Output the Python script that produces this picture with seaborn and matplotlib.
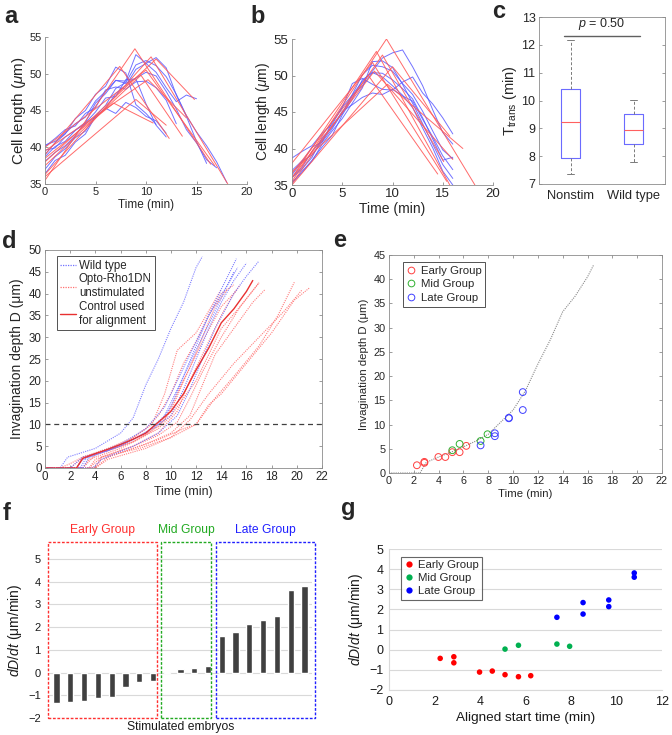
import numpy as np
import pandas as pd
import matplotlib.pyplot as plt
import seaborn as sns
from matplotlib.lines import Line2D
from matplotlib.patches import Rectangle

sns.set_style('ticks')
plt.rcParams['font.family'] = ['Liberation Sans', 'DejaVu Sans']
plt.rcParams['mathtext.fontset'] = 'custom'
plt.rcParams['mathtext.rm'] = 'Liberation Sans'
plt.rcParams['mathtext.it'] = 'Liberation Sans:italic'
plt.rcParams['mathtext.bf'] = 'Liberation Sans:bold'

# ---------------- data ----------------
# a / b : cell length traces (1 min sampling) and piecewise-linear fits
dt_len = 1.0
a_blue = [
    [39.0, 40.6, 41.8, 43.9, 45.0, 47.2, 48.3, 50.9, 50.1, 45.8, 44.6, 43.1],
    [40.3, 40.8, 41.9, 43.2, 44.1, 46.3, 47.6, 49.1, 49.0, 52.6, 51.4, 50.2, 48.1, 46.2, 47.1, 46.6],
    [37.0, 38.7, 39.8, 41.3, 42.2, 44.3, 45.7, 48.0, 48.8, 51.2, 51.8, 51.1, 49.6, 47.2, 44.3, 42.1, 40.2, 38.0, 35.2],
    [38.1, 39.3, 40.2, 41.6, 43.3, 44.8, 46.7, 46.9, 49.2, 49.3, 45.9, 43.0, 41.4],
    [36.4, 38.2, 38.9, 40.7, 41.8, 44.2, 45.3, 47.3, 48.4, 50.6, 51.4, 52.2, 50.8, 47.1, 44.2, 40.8, 37.8],
    [39.6, 39.9, 41.4, 42.3, 43.2, 44.1, 45.3, 44.6, 46.1, 45.4, 44.2, 43.6, 41.9],
    [38.7, 40.1, 40.8, 42.3, 43.4, 46.0, 47.3, 49.1, 48.7, 49.4, 50.2, 49.7, 47.6, 45.2, 42.4, 40.6, 38.3, 37.2],
    [40.1, 41.2, 42.4, 42.9, 44.6, 45.4, 47.8, 48.2, 47.9, 48.9, 49.0, 48.1, 46.4, 43.2],
]
a_fit_t = [[0, 8.9, 16.4], [0, 10.5, 18.1], [0, 11.0, 14.8], [0, 7.4, 12.3], [0, 9.5, 13.6],
           [0, 10.0, 16.8], [0, 6.8, 10.7], [0, 10.2, 14.0], [0, 9.0, 12.0]]
a_fit_y = [[35.5, 53.4, 37.7], [36.3, 52.3, 35.0], [38.0, 52.0, 46.5], [39.0, 51.0, 41.2], [37.5, 49.8, 41.5],
           [40.0, 50.5, 37.5], [38.5, 46.0, 43.3], [39.5, 49.2, 44.0], [36.0, 46.5, 43.0]]

b_blue = [
    [38.7, 39.6, 40.4, 42.1, 43.3, 45.7, 47.3, 49.2, 50.6, 52.4, 53.1, 53.5, 51.2, 48.6, 45.3, 42.2, 40.6],
    [36.1, 37.4, 39.6, 41.2, 43.1, 44.8, 47.2, 48.6, 50.4, 50.3, 49.4, 48.2, 46.8, 44.2, 41.3, 38.4, 38.8],
    [35.4, 36.7, 38.4, 40.2, 41.8, 44.6, 46.8, 49.4, 50.4, 49.8, 48.6, 47.3, 45.6, 42.8, 40.1, 36.9, 35.0],
    [36.4, 38.2, 40.2, 40.9, 43.6, 45.6, 48.9, 49.6, 48.8, 48.1, 48.0, 49.1, 49.8, 47.6, 46.1, 44.2, 42.0],
    [35.2, 36.9, 38.3, 40.6, 42.4, 44.1, 46.2, 48.3, 51.9, 52.0, 51.1, 48.8, 46.2, 43.4, 40.6, 37.8, 35.9],
    [37.0, 38.3, 39.1, 40.9, 42.7, 44.9, 47.4, 50.1, 51.4, 51.2, 50.6, 48.9, 47.4, 45.1, 42.4, 39.8, 38.6],
    [36.0, 37.2, 38.8, 41.5, 42.9, 45.1, 46.0, 47.0, 47.6, 47.4, 48.1, 47.2, 46.5, 44.0, 41.6, 39.0, 37.1],
]
b_fit_t = [[0, 9.4, 18.2], [0, 8.4, 15.7], [0, 8.0, 15.4], [0, 9.0, 15.1],
           [0, 7.6, 14.5], [0, 10.0, 15.7], [0, 9.5, 17.0], [0, 8.2, 16.0]]
b_fit_y = [[35.5, 55.0, 35.0], [36.0, 53.3, 35.0], [38.0, 51.8, 35.5], [35.2, 52.8, 38.2],
           [36.6, 50.0, 36.5], [35.0, 51.2, 41.7], [36.8, 48.8, 40.0], [36.0, 50.6, 38.5]]

# c : transition time box summaries
c_groups = ['Nonstim', 'Wild type']
c_whislo = [7.35, 7.80]
c_q1 = [7.92, 8.42]
c_med = [9.21, 8.93]
c_q3 = [10.40, 9.50]
c_whishi = [12.18, 10.03]
c_pval = 0.50

# d : invagination depth curves
d_wt_t = [
    [0, 1.2, 1.8, 4, 6, 7, 8, 9, 10, 11, 12, 12.5],
    [0, 2.5, 3, 5, 7, 9, 10, 11, 12, 13, 14, 15.2],
    [0, 3, 3.5, 6, 8, 10, 11, 12, 13, 14, 15, 16],
    [0, 3.8, 4.5, 7, 9, 10.5, 11.5, 12.5, 13.5, 15, 16, 17],
    [0, 2.8, 3.3, 6, 8, 9.5, 10.5, 12, 13, 14.5, 15.3],
    [0, 2, 3, 5, 8, 9.5, 11, 12.5, 14, 15],
]
d_wt_D = [
    [0, 0, 2.5, 4.5, 8, 11.5, 19, 25, 32, 38, 46, 48.5],
    [0, 0, 2, 4, 6.5, 10, 14, 21, 28, 35, 41, 48],
    [0, 0, 2.5, 5, 8, 12, 18, 25, 32, 38, 43, 47],
    [0, 0, 2, 5, 8, 12, 18, 25, 32, 40, 44, 47.5],
    [0, 0, 2.5, 5.5, 9, 14, 20, 29, 35, 42, 46],
    [0, 0, 2.5, 4, 8, 12, 21, 30, 39, 45],
]
d_opto_t = [
    [0, 2.5, 3, 5, 7, 8.5, 9.5, 10.5, 12, 13, 14],
    [0, 3, 3.5, 6, 8, 9.5, 10.5, 11.5, 12.5, 13.5, 14.5],
    [0, 3.5, 4, 7, 9, 10.5, 11.5, 13, 14, 15, 15.5],
    [0, 4, 4.5, 7, 9, 10.5, 11.5, 12.5, 14, 15.5, 17],
    [0, 4, 5, 8, 10, 11.5, 12.5, 13.5, 15, 16.5, 17.5],
    [0, 3.8, 4.5, 7, 9, 11, 12, 13, 14, 16, 18, 19.8, 21],
    [0, 4, 5, 8, 10, 12, 13.5, 15, 17, 18.5, 19.8],
    [0, 3.5, 4.5, 7.5, 10, 11.5, 13, 15, 17, 19, 20.4],
    [0, 2, 3, 6, 8, 9, 10, 11, 12, 13, 14, 15],
    [0, 1.2, 2, 3, 5, 7, 9, 10, 11, 12.5, 14, 15.3],
    [0, 3, 4, 7, 9, 10, 11, 12, 13, 14, 15.5, 17],
]
d_opto_D = [
    [0, 0, 2.5, 4.5, 7, 10, 17, 27, 31, 36, 41],
    [0, 0, 2, 4.5, 7.5, 11, 17, 23, 30, 37, 41],
    [0, 0, 2, 5, 8, 13, 20, 29, 35, 40, 42],
    [0, 0, 2.5, 5, 7.5, 10.5, 16, 22, 30, 37, 42.5],
    [0, 0, 2.5, 5.5, 8, 12, 19, 26, 32, 38, 41],
    [0, 0, 2, 4.5, 6.5, 9, 10, 14.5, 17, 24, 31, 38.5, 41.3],
    [0, 0, 2, 4.5, 7, 10, 16, 21, 28, 35, 42.6],
    [0, 0, 2.5, 4.5, 7, 11, 17, 24, 30, 36, 40.8],
    [0, 0, 2.5, 5, 9, 12, 17, 24, 29, 35, 40, 42],
    [0, 0, 1, 2.5, 4, 6, 9.5, 13, 20, 29, 37, 41],
    [0, 0, 3, 6, 9, 12, 16, 20, 26, 32, 37, 42.5],
]
ctrl_t = [0, 2.5, 3, 4, 5, 6, 7, 8, 8.8, 10, 11, 12, 13, 14, 15, 16, 16.5]
ctrl_D = [0, 0, 2.2, 3.3, 4.3, 5.4, 6.6, 8, 10, 13, 17, 22.5, 27.5, 33.3, 36.5, 40.5, 43]

# e / f / g : stimulated embryos
groups = ['Early Group'] * 8 + ['Mid Group'] * 4 + ['Late Group'] * 7
start_time = [2.25, 2.85, 2.85, 3.98, 4.54, 5.10, 5.69, 6.23,
              5.10, 5.69, 7.38, 7.94,
              7.38, 8.53, 8.53, 9.66, 9.66, 10.78, 10.78]
start_depth = [1.6, 2.3, 2.1, 3.3, 3.3, 4.3, 4.3, 5.6,
               4.7, 6.0, 6.6, 8.0,
               5.7, 8.2, 7.6, 11.3, 11.4, 16.7, 13.0]
rate_g = [-0.43, -0.35, -0.65, -1.11, -1.06, -1.24, -1.34, -1.29,
          0.03, 0.22, 0.28, 0.17,
          1.61, 1.77, 2.34, 2.14, 2.47, 3.81, 3.60]
rate_sorted = [-1.32, -1.28, -1.25, -1.10, -1.06, -0.64, -0.43, -0.35,
               0.03, 0.17, 0.21, 0.29,
               1.62, 1.79, 2.14, 2.33, 2.48, 3.63, 3.82]
embryo_ids = ['E%d' % (i + 1) for i in range(len(rate_sorted))]

group_names = ['Early Group', 'Mid Group', 'Late Group']
open_cols = {'Early Group': '#ff4040', 'Mid Group': '#30b030', 'Late Group': '#4040ff'}
dot_cols = {'Early Group': '#ff0000', 'Mid Group': '#00b050', 'Late Group': '#0000ff'}
box_cols = {'Early Group': '#ff3030', 'Mid Group': '#22aa22', 'Late Group': '#2020ff'}

# ---------------- figure ----------------
W, H = 672, 735
fig = plt.figure(figsize=(W / 100, H / 100), dpi=100)


def add_ax(x0, y0, x1, y1):
    return fig.add_axes([x0 / W, 1 - y1 / H, (x1 - x0) / W, (y1 - y0) / H])


def matlab_style(ax, box, size):
    for s in ax.spines.values():
        s.set_color('#8c8c8c')
        s.set_linewidth(0.6)
    if not box:
        ax.spines['top'].set_visible(False)
        ax.spines['right'].set_visible(False)
    ax.tick_params(direction='in', length=2.5, width=0.6, color='#8c8c8c',
                   labelsize=size, labelcolor='#262626', top=box, right=box, pad=2.5)


ink = '#262626'
blue_l = '#5a5aff'
red_l = '#ff5a5a'

# a
ax = add_ax(45, 37, 247, 184)
for y in a_blue:
    ax.plot(np.arange(len(y)) * dt_len, y, color=blue_l, lw=0.7, alpha=0.85)
for t, y in zip(a_fit_t, a_fit_y):
    ax.plot(t, y, color=red_l, lw=0.7, alpha=0.9)
ax.set_xlim(0, 20)
ax.set_ylim(35, 55)
ax.set_xticks([0, 5, 10, 15, 20])
ax.set_yticks([35, 40, 45, 50, 55])
matlab_style(ax, False, 8)
ax.set_xlabel('Time (min)', labelpad=1, fontsize=8.5, color=ink)
ax.set_ylabel(r'Cell length ($\mu$m)', labelpad=1, fontsize=11, color=ink)

# b
ax = add_ax(292, 39, 493, 185)
for y in b_blue:
    ax.plot(np.arange(len(y)) * dt_len, y, color=blue_l, lw=0.7, alpha=0.85)
for t, y in zip(b_fit_t, b_fit_y):
    ax.plot(t, y, color=red_l, lw=0.7, alpha=0.9)
ax.set_xlim(0, 20)
ax.set_ylim(35, 55)
ax.set_xticks([0, 5, 10, 15, 20])
ax.set_yticks([35, 40, 45, 50, 55])
matlab_style(ax, False, 9.5)
ax.set_xlabel('Time (min)', labelpad=1, fontsize=10, color=ink)
ax.set_ylabel(r'Cell length ($\mu$m)', labelpad=1, fontsize=10, color=ink)

# c
ax = add_ax(539, 17, 665, 184)
stats = [dict(label=g, whislo=lo, q1=q1, med=m, q3=q3, whishi=hi, fliers=[])
         for g, lo, q1, m, q3, hi in zip(c_groups, c_whislo, c_q1, c_med, c_q3, c_whishi)]
ax.bxp(stats, positions=[1, 2], widths=0.3, capwidths=0.12, showfliers=False,
       boxprops=dict(color='#6b6bff', lw=0.8),
       medianprops=dict(color='#ff6060', lw=0.8),
       whiskerprops=dict(color='#7a7a7a', lw=0.7, ls=(0, (3, 2))),
       capprops=dict(color='#7a7a7a', lw=0.7))
ax.plot([0.9, 2.1], [12.33, 12.33], color='#606060', lw=1.0)
ax.text(1.5, 12.45, r'$p$ = %.2f' % c_pval, ha='center', va='bottom', fontsize=9, color=ink)
ax.set_xlim(0.5, 2.5)
ax.set_ylim(7, 13)
ax.set_yticks(range(7, 14))
matlab_style(ax, True, 9)
ax.tick_params(axis='x', length=0, labelsize=9.3, pad=4)
ax.set_ylabel(r'T$_{\mathrm{trans}}$ (min)', labelpad=2, fontsize=10.5, color=ink)

# d
ax = add_ax(45, 250, 322, 468)
dot = (0, (1, 1))
for t, D in zip(d_opto_t, d_opto_D):
    ax.plot(t, D, color='#ff7070', lw=0.8, ls=dot, alpha=0.9)
for t, D in zip(d_wt_t, d_wt_D):
    ax.plot(t, D, color='#7070ff', lw=0.8, ls=dot, alpha=0.9)
sns.lineplot(x=ctrl_t, y=ctrl_D, ax=ax, color='#e83030', lw=1.0, sort=False, estimator=None)
ax.axhline(10, color='#404040', lw=0.9, ls=(0, (4, 3)))
ax.set_xlim(0, 22)
ax.set_ylim(0, 50)
ax.set_xticks(range(0, 23, 2))
ax.set_yticks(range(0, 51, 5))
matlab_style(ax, True, 8.3)
ax.set_xlabel('Time (min)', labelpad=2, fontsize=8.8, color=ink)
ax.set_ylabel('Invagination depth D (μm)', labelpad=3, fontsize=10, color=ink)
handles = [Line2D([], [], color='#7070ff', lw=0.9, ls=dot),
           Line2D([], [], color='#ff7070', lw=0.9, ls=dot),
           Line2D([], [], color='#e83030', lw=1.0)]
leg = ax.legend(handles, ['Wild type', 'Opto-Rho1DN\nunstimulated', 'Control used\nfor alignment'],
                loc='upper left', bbox_to_anchor=(0.043, 0.972), borderaxespad=0, fontsize=8.3,
                frameon=True, fancybox=False, handlelength=1.35, handletextpad=0.25,
                labelspacing=0.15, borderpad=0.3)
leg.get_frame().set_edgecolor(ink)
leg.get_frame().set_linewidth(0.7)

# e
ax = add_ax(389, 255, 662, 473)
ax.plot(ctrl_t, ctrl_D, color='#8a8a8a', lw=0.8, ls=dot)
df = pd.DataFrame({'t': start_time, 'D': start_depth, 'group': groups})
for g in group_names:
    sub = df[df.group == g]
    sns.scatterplot(data=sub, x='t', y='D', ax=ax, color=open_cols[g], facecolor='none',
                    edgecolor=open_cols[g], linewidth=0.7, s=24, zorder=3)
ax.set_xlim(0, 22)
ax.set_ylim(0, 45)
ax.set_xticks(range(0, 23, 2))
ax.set_yticks(range(0, 46, 5))
matlab_style(ax, True, 7.8)
ax.set_xlabel('Time (min)', labelpad=2, fontsize=8.2, color=ink)
ax.set_ylabel('Invagination depth D (μm)', labelpad=3, fontsize=8.2, color=ink)
handles = [Line2D([], [], ls='none', marker='o', mfc='none', mec=open_cols[g], ms=4.8, mew=0.7)
           for g in group_names]
leg = ax.legend(handles, group_names, loc='upper left', bbox_to_anchor=(0.051, 0.968),
                borderaxespad=0, fontsize=8.2, frameon=True, fancybox=False,
                handlelength=0.8, handletextpad=0.4, labelspacing=0.3, borderpad=0.35)
leg.get_frame().set_edgecolor(ink)
leg.get_frame().set_linewidth(0.7)

# f
ax = add_ax(49, 542, 312, 718)
sns.barplot(x=embryo_ids, y=rate_sorted, ax=ax, color='#404040', width=0.45,
            saturation=1, order=embryo_ids)
ax.set_ylim(-2, 5.75)
ax.set_xlim(-0.55, 18.55)
ax.set_yticks(range(-2, 6))
ax.yaxis.grid(True, color='#d9d9d9', lw=0.8)
ax.set_axisbelow(True)
for s in ax.spines.values():
    s.set_visible(False)
ax.tick_params(axis='both', length=0, labelsize=8, labelcolor='#1a1a1a', pad=6)
ax.set_xticks([])
ax.set_xlabel('Stimulated embryos', fontsize=8.7, labelpad=2, color='#1a1a1a')
ax.set_ylabel(r'$dD/dt$ (μm/min)', fontsize=10, labelpad=3, color='#1a1a1a')
spans = {'Early Group': (-0.6, 7.27), 'Mid Group': (7.62, 11.25), 'Late Group': (11.55, 18.8)}
for g in group_names:
    x0, x1 = spans[g]
    ax.add_patch(Rectangle((x0, -2), x1 - x0, 7.75, fill=False, edgecolor=box_cols[g],
                           lw=1.0, ls=(0, (2, 1.2)), clip_on=False, zorder=4))
    ax.text((x0 + x1) / 2, 6.27, g, ha='center', va='center', fontsize=8.7, color=box_cols[g])

# g
ax = add_ax(389, 549, 662, 690)
sns.scatterplot(x=start_time, y=rate_g, hue=groups, palette=dot_cols, ax=ax, s=16,
                linewidth=0, legend=False, zorder=3)
ax.set_xlim(0, 12)
ax.set_ylim(-2, 5)
ax.set_xticks(range(0, 13, 2))
ax.set_yticks(range(-2, 6))
ax.yaxis.grid(True, color='#d9d9d9', lw=0.8)
ax.set_axisbelow(True)
ax.spines['top'].set_visible(False)
ax.spines['right'].set_visible(False)
ax.spines['left'].set_color('#d9d9d9')
ax.spines['bottom'].set_color('#d9d9d9')
ax.tick_params(axis='both', length=0, labelsize=9, labelcolor='#1a1a1a', pad=4)
ax.set_xlabel('Aligned start time (min)', fontsize=9.7, labelpad=3, color='#1a1a1a')
ax.set_ylabel(r'$dD/dt$ (μm/min)', fontsize=10, labelpad=3, color='#1a1a1a')
handles = [Line2D([], [], ls='none', marker='o', mfc=dot_cols[g], mec='none', ms=4.5)
           for g in group_names]
leg = ax.legend(handles, group_names, loc='upper left', bbox_to_anchor=(0.044, 0.943),
                borderaxespad=0, fontsize=8.2, frameon=True, fancybox=False,
                handlelength=0.8, handletextpad=0.4, labelspacing=0.25, borderpad=0.3)
leg.get_frame().set_edgecolor('#404040')
leg.get_frame().set_linewidth(0.8)

# panel letters
for letter, x, y in [('a', 4, 23), ('b', 250, 23), ('c', 492, 18), ('d', 2, 248),
                     ('e', 333, 247), ('f', 3, 520), ('g', 341, 515)]:
    fig.text(x / W, 1 - y / H, letter, fontsize=17, fontweight='bold', va='baseline', ha='left')

fig.savefig('out.png', dpi=100)
